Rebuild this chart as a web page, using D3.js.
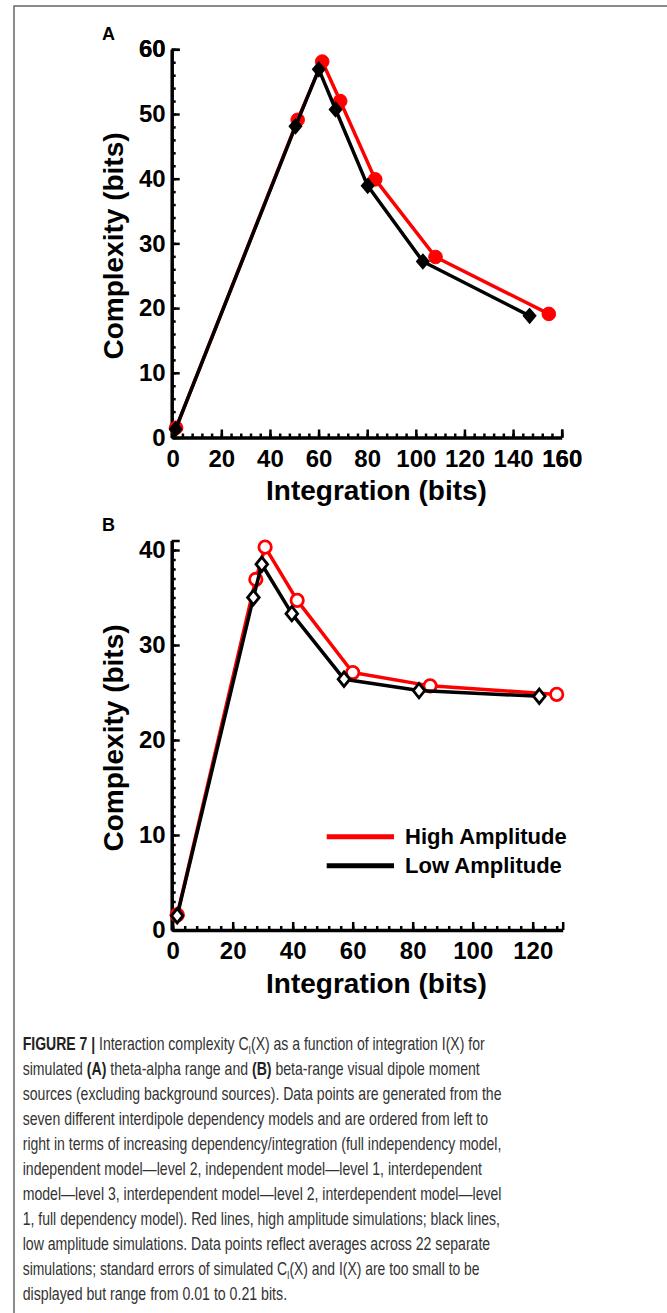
<!DOCTYPE html>
<html>
<head>
<meta charset="utf-8">
<script src="https://cdn.jsdelivr.net/npm/d3@7"></script>
<style>
  body { margin: 0; background: #fff; }
  svg { display: block; }
  .tick text { font-family: "Liberation Sans", Arial, sans-serif; font-weight: bold; font-size: 24px; fill: #000; }
  .axisTitle { font-family: "Liberation Sans", Arial, sans-serif; font-weight: bold; font-size: 28px; }
  .legendText { font-family: "Liberation Sans", Arial, sans-serif; font-weight: bold; font-size: 22px; }
  .caption { font-family: "Liberation Sans Narrow", "Liberation Sans", Arial, sans-serif; font-size: 17.5px; fill: #333; }
</style>
</head>
<body>
<div id="chart"></div>
<script>
// Figure 7: complexity vs integration, two panels

// Panel A (theta-alpha)
var aHighX = [1.4, 51.4, 61.5, 68.9, 83.3, 108.1, 154.7];
var aHighY = [1.5, 49.1, 58.1, 52.0, 39.9, 27.9, 19.1];
var aLowX = [1.2, 50.5, 60.1, 67.0, 80.2, 102.9, 146.8];
var aLowY = [1.3, 48.1, 56.9, 50.7, 38.9, 27.2, 18.8];
var aXTicks = [0, 20, 40, 60, 80, 100, 120, 140, 160];
var aYTicks = [0, 10, 20, 30, 40, 50, 60];

// Panel B (beta)
var bHighX = [1.5, 27.7, 30.8, 41.5, 60.0, 85.8, 128.0];
var bHighY = [1.6, 36.9, 40.3, 34.7, 27.1, 25.7, 24.8];
var bLowX = [1.5, 26.9, 29.7, 39.7, 57.1, 82.1, 122.2];
var bLowY = [1.5, 35.0, 38.5, 33.3, 26.4, 25.2, 24.6];
var bXTicks = [0, 20, 40, 60, 80, 100, 120];
var bYTicks = [0, 10, 20, 30, 40];

var seriesNames = ["High Amplitude", "Low Amplitude"];
var seriesColors = ["#ff0000", "#000000"];

var captionLines = [
  [["FIGURE 7 | ", "b"], ["Interaction complexity C"], ["I", "sub"], ["(X) as a function of integration I(X) for", "up"]],
  [["simulated "], ["(A)", "b"], [" theta-alpha range and "], ["(B)", "b"], [" beta-range visual dipole moment"]],
  [["sources (excluding background sources). Data points are generated from the"]],
  [["seven different interdipole dependency models and are ordered from left to"]],
  [["right in terms of increasing dependency/integration (full independency model,"]],
  [["independent model\u2014level 2, independent model\u2014level 1, interdependent"]],
  [["model\u2014level 3, interdependent model\u2014level 2, interdependent model\u2014level"]],
  [["1, full dependency model). Red lines, high amplitude simulations; black lines,"]],
  [["low amplitude simulations. Data points reflect averages across 22 separate"]],
  [["simulations; standard errors of simulated C"], ["I", "sub"], ["(X) and I(X) are too small to be", "up"]],
  [["displayed but range from 0.01 to 0.21 bits."]]
];
var captionRight = [485, 480, 501.7, 488.3, 501.7, 482.7, 501.7, 500, 490.7, 480, 287.3];

var svg = d3.select("#chart")
  .append("svg")
  .attr("width", 667)
  .attr("height", 1313);

// frame
svg.append("path")
  .attr("d", "M14,1313V6H667")
  .attr("fill", "none")
  .attr("stroke", "#666")
  .attr("stroke-width", 1.5);

function diamond(w, h) {
  return "M0," + (-h) + "L" + w + ",0L0," + h + "L" + (-w) + ",0Z";
}

function drawPanel(p) {
  var x = d3.scaleLinear().domain(p.xDomain).range(p.xRange);
  var y = d3.scaleLinear().domain(p.yDomain).range(p.yRange);
  var g = svg.append("g");

  // minor ticks
  g.append("g")
    .attr("transform", `translate(0, ${p.yRange[0]})`)
    .call(d3.axisBottom(x).tickValues(p.xMinor).tickSize(-4).tickFormat(""))
    .call(a => a.select(".domain").remove())
    .selectAll("line").attr("stroke-width", 2.5);
  g.append("g")
    .attr("transform", `translate(${p.xRange[0] - 1}, 0)`)
    .call(d3.axisLeft(y).tickValues(p.yMinor).tickSize(-4).tickFormat(""))
    .call(a => a.select(".domain").remove())
    .selectAll("line").attr("stroke-width", 2.5);

  // major axes
  var xAxis = g.append("g")
    .attr("transform", `translate(0, ${p.yRange[0]})`)
    .call(d3.axisBottom(x).tickValues(p.xTicks.concat([p.xDomain[1]])).tickSizeInner(-8).tickSizeOuter(0).tickPadding(12)
      .tickFormat(d => p.xTicks.indexOf(d) >= 0 ? d : ""));
  xAxis.select(".domain").attr("stroke-width", 3.5);
  xAxis.selectAll("line").attr("stroke-width", 2.5);

  var yAxis = g.append("g")
    .attr("transform", `translate(${p.xRange[0] - 1}, 0)`)
    .call(d3.axisLeft(y).tickValues(p.yTicks.concat([p.yDomain[1]])).tickSizeInner(-8).tickSizeOuter(0).tickPadding(6)
      .tickFormat(d => p.yTicks.indexOf(d) >= 0 ? d : ""));
  yAxis.select(".domain").attr("stroke-width", 3.5);
  yAxis.selectAll("line").attr("stroke-width", 2.5);

  // axis titles
  g.append("text")
    .attr("class", "axisTitle")
    .attr("text-anchor", "middle")
    .attr("x", 376.5)
    .attr("y", p.xTitleY)
    .text("Integration (bits)");
  g.append("text")
    .attr("class", "axisTitle")
    .attr("text-anchor", "middle")
    .attr("transform", `translate(123, ${p.yTitleMid}) rotate(-90)`)
    .text("Complexity (bits)");

  // panel letter
  g.append("text")
    .attr("x", 102)
    .attr("y", p.letterY)
    .style("font-family", "Liberation Sans, Arial, sans-serif")
    .style("font-weight", "bold")
    .style("font-size", "18px")
    .text(p.letter);

  var line = d3.line().x(d => x(d[0])).y(d => y(d[1]));

  p.series.forEach(function(s, i) {
    var pts = d3.zip(s.x, s.y);
    g.append("path")
      .datum(pts)
      .attr("d", line)
      .attr("fill", "none")
      .attr("stroke", seriesColors[i])
      .attr("stroke-width", 3.5)
      .attr("stroke-linejoin", "round");

    var m = g.selectAll(null).data(pts).enter();
    if (i === 0) {
      m.append("circle")
        .attr("cx", d => x(d[0]))
        .attr("cy", d => y(d[1]))
        .attr("r", p.filled ? 6.8 : 6.2)
        .attr("fill", p.filled ? seriesColors[i] : "#fff")
        .attr("stroke", seriesColors[i])
        .attr("stroke-width", p.filled ? 1 : 2.8);
    } else {
      m.append("path")
        .attr("transform", d => `translate(${x(d[0])}, ${y(d[1])})`)
        .attr("d", p.filled ? diamond(5.8, 6.8) : diamond(5.8, 7.2))
        .attr("fill", p.filled ? seriesColors[i] : "#fff")
        .attr("stroke", seriesColors[i])
        .attr("stroke-width", p.filled ? 2 : 2.8);
    }
  });

  return g;
}

drawPanel({
  letter: "A", letterY: 39.5,
  xDomain: [0, 160], xRange: [172.7, 561.7],
  yDomain: [0, 60], yRange: [437.5, 49.3],
  xTicks: aXTicks, yTicks: aYTicks,
  xMinor: d3.range(0, 161, 4), yMinor: d3.range(0, 61, 2),
  xTitleY: 500, yTitleMid: 246,
  filled: true,
  series: [{ x: aHighX, y: aHighY }, { x: aLowX, y: aLowY }]
});

var panelB = drawPanel({
  letter: "B", letterY: 531,
  xDomain: [0, 130], xRange: [172.7, 562.7],
  yDomain: [0, 41], yRange: [930, 540.5],
  xTicks: bXTicks, yTicks: bYTicks,
  xMinor: d3.range(0, 130, 4), yMinor: d3.range(0, 41, 1),
  xTitleY: 992.5, yTitleMid: 738,
  filled: false,
  series: [{ x: bHighX, y: bHighY }, { x: bLowX, y: bLowY }]
});

// legend in panel B
var legendY = [836.7, 865.7];
seriesNames.forEach(function(name, i) {
  panelB.append("line")
    .attr("x1", 326.7).attr("x2", 394)
    .attr("y1", legendY[i]).attr("y2", legendY[i])
    .attr("stroke", seriesColors[i])
    .attr("stroke-width", 5);
  panelB.append("text")
    .attr("class", "legendText")
    .attr("x", 405)
    .attr("y", legendY[i] + 7.5)
    .text(name);
});

// caption: each line is squeezed horizontally to the width it has in the figure
captionLines.forEach(function(parts, i) {
  var t = svg.append("text")
    .attr("class", "caption")
    .attr("x", 0)
    .attr("y", 0);
  parts.forEach(function(pt) {
    var sp = t.append("tspan").text(pt[0]);
    if (pt[1] === "b") sp.style("font-weight", "bold").style("fill", "#222");
    if (pt[1] === "sub") sp.attr("dy", 4).style("font-size", "11px");
    if (pt[1] === "up") sp.attr("dy", -4);
  });
  var w = t.node().getComputedTextLength();
  var k = (captionRight[i] - 22.7) / w;
  t.attr("transform", `translate(22.7, ${1049.5 + i * 25}) scale(${k}, 1)`);
});
</script>
</body>
</html>
